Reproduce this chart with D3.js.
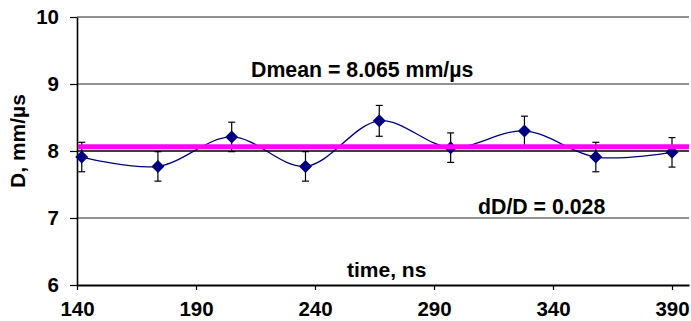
<!DOCTYPE html>
<html>
<head>
<meta charset="utf-8">
<script src="https://cdn.jsdelivr.net/npm/d3@7"></script>
<style>
  body { margin: 0; background: #fff; }
  text { font-family: "Liberation Sans", Arial, sans-serif; font-weight: bold; }
</style>
</head>
<body>
<script>
// chart data
var times = [142, 174, 205, 236, 267, 297, 328, 358, 390];
var dValues = [7.91, 7.77, 8.21, 7.77, 8.45, 8.05, 8.30, 7.91, 7.98];
var dErrors = [0.22, 0.22, 0.22, 0.22, 0.23, 0.22, 0.22, 0.22, 0.22];
var xTicks = [140, 190, 240, 290, 340, 390];
var yTicks = [6, 7, 8, 9, 10];
var dMean = 8.065;
var dMeanLabel = "Dmean = 8.065 mm/µs";
var spreadLabel = "dD/D = 0.028";

var Chart = {
  width : 691,
  height : 321,
  left : 77,
  right : 689,
  top : 17,
  bottom : 285
};

var svg = d3.select('body').append('svg')
  .attr('width', Chart.width)
  .attr('height', Chart.height);

var x = d3.scaleLinear()
  .domain([140, 140 + (Chart.right - Chart.left) / 2.38])
  .range([Chart.left, Chart.right]);

var y = d3.scaleLinear()
  .domain([6, 10])
  .range([Chart.bottom, Chart.top]);

// gridlines
svg.append('g').selectAll('line')
  .data(yTicks.filter(function(d){ return d > 6; }))
  .enter().append('line')
  .attr('x1', Chart.left)
  .attr('x2', Chart.right)
  .attr('y1', function(d){ return y(d); })
  .attr('y2', function(d){ return y(d); })
  .attr('stroke', function(d){ return d === 8 ? '#000' : '#6e6e6e'; })
  .attr('stroke-width', 1.6);

// x axis
var xAxis = svg.append('g')
  .attr('transform', 'translate(0,' + Chart.bottom + ')')
  .call(d3.axisBottom(x).tickValues(xTicks).tickSize(5).tickSizeOuter(0).tickPadding(11));
xAxis.select('.domain').attr('stroke', '#000').attr('stroke-width', 2);
xAxis.selectAll('.tick line').attr('stroke-width', 1.2);
xAxis.selectAll('.tick text')
  .attr('font-size', 20.5).attr('fill', '#000')
  .attr('font-family', '"Liberation Sans", Arial, sans-serif').attr('font-weight', 'bold');

// y axis
var yAxis = svg.append('g')
  .attr('transform', 'translate(' + Chart.left + ',0)')
  .call(d3.axisLeft(y).tickValues(yTicks).tickSize(7).tickSizeOuter(0).tickPadding(11)
    .tickFormat(d3.format('d')));
yAxis.select('.domain').attr('stroke', '#000').attr('stroke-width', 1.6);
yAxis.selectAll('.tick line').attr('stroke-width', 1.2);
yAxis.selectAll('.tick text')
  .attr('font-size', 20.5).attr('fill', '#000')
  .attr('font-family', '"Liberation Sans", Arial, sans-serif').attr('font-weight', 'bold');

var pts = times.map(function(t, i){ return { t: t, v: dValues[i], e: dErrors[i] }; });

// smoothed series line
var line = d3.line()
  .x(function(d){ return x(d.t); })
  .y(function(d){ return y(d.v); })
  .curve(d3.curveCatmullRom.alpha(0.5));

svg.append('path')
  .datum(pts)
  .attr('d', line)
  .attr('fill', 'none')
  .attr('stroke', '#000080')
  .attr('stroke-width', 1.3);

// error bars
var eb = svg.append('g').selectAll('g')
  .data(pts)
  .enter().append('g')
  .attr('stroke', '#000')
  .attr('stroke-width', 1.2);
eb.append('line')
  .attr('x1', function(d){ return x(d.t); })
  .attr('x2', function(d){ return x(d.t); })
  .attr('y1', function(d){ return y(d.v + d.e); })
  .attr('y2', function(d){ return y(d.v - d.e); });
eb.append('line')
  .attr('x1', function(d){ return x(d.t) - 3.5; })
  .attr('x2', function(d){ return x(d.t) + 3.5; })
  .attr('y1', function(d){ return y(d.v + d.e); })
  .attr('y2', function(d){ return y(d.v + d.e); });
eb.append('line')
  .attr('x1', function(d){ return x(d.t) - 3.5; })
  .attr('x2', function(d){ return x(d.t) + 3.5; })
  .attr('y1', function(d){ return y(d.v - d.e); })
  .attr('y2', function(d){ return y(d.v - d.e); });

// diamond markers
svg.append('g').selectAll('path')
  .data(pts)
  .enter().append('path')
  .attr('d', 'M0,-6.5L6.5,0L0,6.5L-6.5,0Z')
  .attr('transform', function(d){ return 'translate(' + x(d.t) + ',' + y(d.v) + ')'; })
  .attr('fill', '#000080');

// mean line
svg.append('line')
  .attr('x1', Chart.left + 1)
  .attr('x2', Chart.right)
  .attr('y1', y(dMean))
  .attr('y2', y(dMean))
  .attr('stroke', '#ff00ff')
  .attr('stroke-width', 5);

// annotations
svg.append('text')
  .attr('x', 251).attr('y', 77)
  .attr('font-size', 21.3)
  .text(dMeanLabel);

svg.append('text')
  .attr('x', 478).attr('y', 214)
  .attr('font-size', 21.3)
  .text(spreadLabel);

svg.append('text')
  .attr('x', 347).attr('y', 277)
  .attr('font-size', 21)
  .text('time, ns');

svg.append('text')
  .attr('transform', 'translate(25,' + 141 + ') rotate(-90)')
  .attr('text-anchor', 'middle')
  .attr('font-size', 21)
  .text('D, mm/µs');
</script>
</body>
</html>
